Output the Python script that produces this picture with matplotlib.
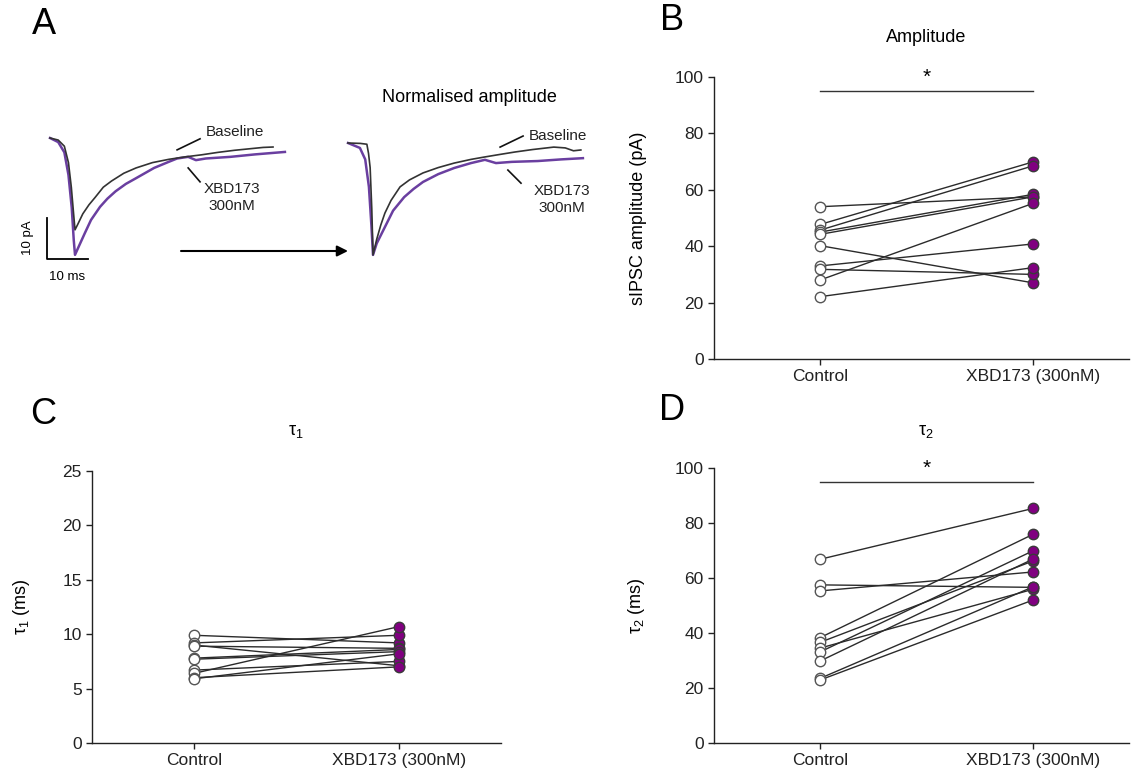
#!/usr/bin/env python3
"""
Figure: sIPSC traces (A), amplitude (B) and decay constants tau1/tau2 (C, D),
Control vs XBD173 (300nM).
"""
import numpy as np
import matplotlib
matplotlib.use("Agg")
import matplotlib.pyplot as plt

# Panel A - averaged sIPSCs, time in ms and current in pA
BASE_T = [0, 2, 3.5, 4.5, 5.2, 5.8, 6.1, 6.8, 8, 9.5, 11, 13, 15, 18, 21, 25,
          29, 33, 37, 41, 45, 49, 52, 54.4]
BASE_I = [0, -0.5, -2, -6, -12, -19, -22.4, -21, -18.5, -16.3, -14.5, -12,
          -10.5, -8.6, -7.3, -6.0, -5.2, -4.6, -4.1, -3.5, -3.0, -2.6, -2.3, -2.2]
XBD_T = [0, 2, 3.5, 4.5, 5.3, 5.8, 6.1, 7, 8.5, 10, 12.2, 14, 16, 18.5, 21,
         25.4, 29, 31, 33.7, 35.6, 38, 44, 50, 57.3]
XBD_I = [0, -1, -3.5, -9, -17, -25, -28.5, -26.5, -23.2, -20, -16.8, -14.8,
         -13.0, -11.2, -9.8, -7.3, -5.8, -5.0, -4.6, -5.4, -5.0, -4.6, -4.0, -3.4]

# Panel A (right) - same events normalised to the XBD173 peak
NORM_BASE_T = [0, 3, 4.6, 5.0, 5.4, 5.8, 6.1, 7, 8, 9, 10.5, 12.7, 15, 18.3,
               22, 25.9, 30, 33.4, 37, 40.7, 45, 50.2, 53, 55, 56.8]
NORM_BASE_I = [0, -0.1, -0.3, -2.5, -6, -16, -27.3, -23.5, -20, -17.1, -14,
               -10.7, -9.0, -7.3, -6.0, -4.9, -4.0, -3.4, -2.8, -2.2, -1.6,
               -1.0, -1.2, -1.9, -1.7]
NORM_XBD_T = [0, 2.9, 4.2, 5.1, 5.7, 6.1, 7, 9.0, 11, 13.7, 16, 18.3, 22,
              25.9, 30, 33.4, 36.1, 40, 46.3, 52, 57.3]
NORM_XBD_I = [0, -1.2, -4, -10.7, -20, -27.3, -24.5, -20.5, -16.5, -13.2,
              -11.2, -9.5, -7.6, -6.1, -4.9, -4.1, -4.9, -4.6, -4.4, -4.0, -3.7]

# Panel B - sIPSC amplitude (pA), paired by cell
AMP_CONTROL = [54.0, 47.7, 45.7, 45.0, 44.2, 40.2, 33.0, 31.8, 28.0, 22.1]
AMP_XBD = [57.5, 69.9, 68.5, 58.4, 57.5, 27.0, 40.8, 30.0, 55.2, 32.4]

# Panel C - tau1 (ms)
TAU1_CONTROL = [9.9, 9.2, 9.0, 8.9, 7.8, 7.7, 6.7, 6.4, 6.0, 5.9]
TAU1_XBD = [9.2, 9.9, 7.1, 8.7, 8.6, 8.4, 7.5, 10.7, 7.0, 8.2]

# Panel D - tau2 (ms)
TAU2_CONTROL = [66.8, 57.5, 55.3, 38.3, 36.6, 34.5, 33.1, 29.8, 23.5, 22.9]
TAU2_XBD = [85.3, 56.6, 62.2, 75.9, 66.2, 55.9, 69.9, 66.9, 56.8, 52.0]

CONDITIONS = ["Control", "XBD173 (300nM)"]

FIG_W, FIG_H = 1137, 775
TRACE_BLACK = "#333333"
TRACE_PURPLE = "#6a3fa0"
DOT_PURPLE = "#800080"


def px_rect(left, top, right, bottom):
    """Axes rectangle from pixel edges (origin top-left)."""
    return [left / FIG_W, 1 - bottom / FIG_H,
            (right - left) / FIG_W, (bottom - top) / FIG_H]


def px_xy(x, y):
    """Figure fraction from a pixel position (origin top-left)."""
    return x / FIG_W, 1 - y / FIG_H


def trace_axes(fig, rect):
    ax = fig.add_axes(rect)
    ax.set_xlim(-2.44, 60.98)
    ax.set_ylim(-30.98, 3.17)
    ax.axis("off")
    return ax


def label_with_leader(ax, text, xy_text, line_from, line_to, ha="left"):
    ax.plot([line_from[0], line_to[0]], [line_from[1], line_to[1]],
            color="#111111", lw=1.2, clip_on=False)
    ax.text(xy_text[0], xy_text[1], text, ha=ha, va="center", fontsize=11,
            linespacing=1.25, color="#222222")


def plot_traces(fig):
    """Panel A: raw and normalised averaged events."""
    ax1 = trace_axes(fig, px_rect(40, 125, 300, 265))
    ax1.plot(BASE_T, BASE_I, color=TRACE_BLACK, lw=1.2, zorder=3)
    ax1.plot(XBD_T, XBD_I, color=TRACE_PURPLE, lw=1.8, zorder=2)
    label_with_leader(ax1, "Baseline", (38, 1.5), (31, -2.9), (36.6, -0.2))
    label_with_leader(ax1, "XBD173\n300nM", (44.4, -14.6), (33.7, -7.3),
                      (36.6, -10.7), ha="center")

    # scale bar
    ax1.plot([-0.7, -0.7, 9.3], [-19.5, -29.5, -29.5], color="k", lw=1.3,
             clip_on=False)
    ax1.text(-5.4, -24.4, "10 pA", rotation=90, ha="center", va="center",
             fontsize=9.5)
    ax1.text(4.1, -33.9, "10 ms", ha="center", va="center", fontsize=9.5)

    ax2 = trace_axes(fig, px_rect(338, 130, 598, 270))
    ax2.plot(NORM_BASE_T, NORM_BASE_I, color=TRACE_BLACK, lw=1.2, zorder=3)
    ax2.plot(NORM_XBD_T, NORM_XBD_I, color=TRACE_PURPLE, lw=1.8, zorder=2)
    label_with_leader(ax2, "Baseline", (44.1, 1.7), (37.1, -1.0), (42.7, 1.7))
    label_with_leader(ax2, "XBD173\n300nM", (52.2, -13.8), (39, -6.6),
                      (42.2, -9.8), ha="center")

    fig.text(*px_xy(469, 97), "Normalised amplitude", ha="center",
             va="center", fontsize=13)

    # arrow between raw and normalised traces
    ax1.annotate("", xy=px_xy(348, 251), xytext=px_xy(181, 251),
                 xycoords="figure fraction", textcoords="figure fraction",
                 arrowprops=dict(arrowstyle="-|>", color="k", lw=1.5,
                                 mutation_scale=16, shrinkA=0, shrinkB=0))


def plot_paired(ax, control, treated, ylim, yticks, ylabel, star=False):
    """Before/after plot with one line per cell."""
    for c, t in zip(control, treated):
        ax.plot([0, 1], [c, t], color="#2b2b2b", lw=1.0, zorder=1)
    ax.plot(np.zeros(len(control)), control, "o", ms=7.5, mfc="white",
            mec="#555555", mew=1.0, zorder=3, clip_on=False)
    ax.plot(np.ones(len(treated)), treated, "o", ms=7.5, mfc=DOT_PURPLE,
            mec="#3a3a3a", mew=1.0, zorder=3, clip_on=False)

    ax.set_ylim(*ylim)
    ax.set_yticks(yticks)
    ax.set_xticks([0, 1])
    ax.set_xticklabels(CONDITIONS)
    ax.set_ylabel(ylabel, fontsize=13)
    for side in ["top", "right"]:
        ax.spines[side].set_visible(False)
    for side in ["left", "bottom"]:
        ax.spines[side].set_color("#222222")
        ax.spines[side].set_linewidth(1.0)
    ax.tick_params(direction="out", length=4, width=1.0, labelsize=12.5,
                   pad=3, colors="#222222")

    if star:
        top = ylim[1]
        ax.plot([0, 1], [0.95 * top, 0.95 * top], color="#333333", lw=1.0,
                clip_on=False)
        ax.text(0.5, 0.965 * top, "*", ha="center", va="bottom", fontsize=15)


def main():
    plt.rcParams["font.family"] = ["Liberation Sans", "DejaVu Sans"]
    plt.rcParams["mathtext.fontset"] = "custom"
    plt.rcParams["mathtext.rm"] = "Liberation Sans"
    plt.rcParams["mathtext.it"] = "Liberation Sans:italic"

    fig = plt.figure(figsize=(FIG_W / 100, FIG_H / 100), dpi=100)

    plot_traces(fig)

    # Panel B
    ax_b = fig.add_axes(px_rect(713.5, 77, 1129, 359))
    ax_b.set_xlim(-0.5, 1.45)
    plot_paired(ax_b, AMP_CONTROL, AMP_XBD, (0, 100), range(0, 101, 20),
                "sIPSC amplitude (pA)", star=True)
    ax_b.yaxis.set_label_coords(-0.16, 0.5)
    fig.text(*px_xy(926, 38), "Amplitude", ha="center", va="center",
             fontsize=13)

    # Panel C
    ax_c = fig.add_axes(px_rect(91.5, 471, 501.5, 743))
    ax_c.set_xlim(-0.5, 1.5)
    plot_paired(ax_c, TAU1_CONTROL, TAU1_XBD, (0, 25), range(0, 26, 5),
                "\u03c4$_1$ (ms)")
    ax_c.yaxis.set_label_coords(-0.145, 0.5)
    fig.text(*px_xy(296, 432), "\u03c4$_1$", ha="center", va="center",
             fontsize=13)

    # Panel D
    ax_d = fig.add_axes(px_rect(713.5, 468, 1129, 743))
    ax_d.set_xlim(-0.5, 1.45)
    plot_paired(ax_d, TAU2_CONTROL, TAU2_XBD, (0, 100), range(0, 101, 20),
                "\u03c4$_2$ (ms)", star=True)
    ax_d.yaxis.set_label_coords(-0.16, 0.5)
    fig.text(*px_xy(926, 432), "\u03c4$_2$", ha="center", va="center",
             fontsize=13)

    # panel letters
    for letter, (x, y) in {"A": (44, 24), "B": (672, 20),
                           "C": (43, 415), "D": (672, 410)}.items():
        fig.text(*px_xy(x, y), letter, ha="center", va="center", fontsize=26)

    fig.savefig("out.png", dpi=100)
    plt.close(fig)


if __name__ == "__main__":
    main()
